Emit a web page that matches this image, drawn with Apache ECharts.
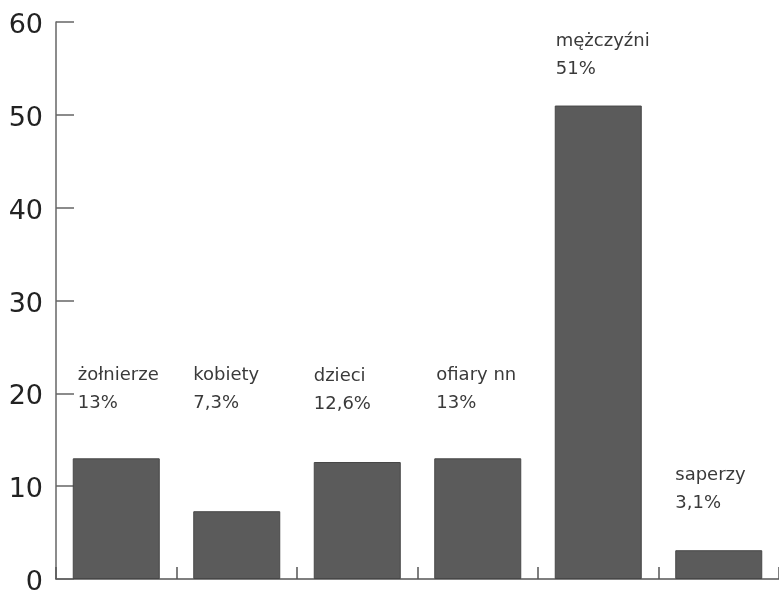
<!DOCTYPE html>
<html><head><meta charset="utf-8">
<script src="https://cdn.jsdelivr.net/npm/echarts@6/dist/echarts.min.js"></script>
<style>html,body{margin:0;padding:0;background:#fff}#c{width:779px;height:590px}</style>
</head><body><div id="c"></div>
<script>
const categories = ['żołnierze', 'kobiety', 'dzieci', 'ofiary nn', 'mężczyźni', 'saperzy'];
const values = [13, 7.3, 12.6, 13, 51, 3.1];
const percentLabels = ['13%', '7,3%', '12,6%', '13%', '51%', '3,1%'];
const yTicks = [0, 10, 20, 30, 40, 50, 60];

// label placement (px, relative to bar top-left)
const labelPos = [[5, -97], [0, -150], [0, -100], [2, -97], [1, -78], [0, -89]];

const chart = echarts.init(document.getElementById('c'));
chart.setOption({
  animation: false,
  grid: { left: 56, right: 0, top: 22, bottom: 11, containLabel: false, outerBoundsMode: 'none' },
  xAxis: {
    type: 'category', data: categories,
    axisLine: { lineStyle: { color: '#555', width: 1.5 } },
    axisTick: { show: true, inside: true, length: 12, alignWithLabel: false, lineStyle: { color: '#555', width: 1.5 } },
    axisLabel: { show: false }
  },
  yAxis: {
    type: 'value', min: yTicks[0], max: yTicks[yTicks.length - 1], interval: 10,
    axisLine: { show: true, lineStyle: { color: '#666', width: 1.5 } },
    axisTick: { show: true, inside: true, length: 18, lineStyle: { color: '#666', width: 1.5 } },
    splitLine: { show: false },
    axisLabel: {
      margin: 13,
      formatter: v => '{a|' + v + '}',
      rich: { a: { color: '#222', fontSize: 27, fontFamily: 'DejaVu Sans', padding: [8, 0, 0, 0] } }
    }
  },
  series: [{
    type: 'bar', barWidth: 87,
    data: values.map((v, i) => ({
      value: v,
      label: {
        show: true, position: labelPos[i], align: 'left', verticalAlign: 'top',
        formatter: categories[i] + '\n' + percentLabels[i]
      }
    })),
    itemStyle: { color: '#5b5b5b', borderColor: '#474747', borderWidth: 1 },
    label: { color: '#3a3a3a', fontSize: 18, lineHeight: 28, fontFamily: 'DejaVu Sans' }
  }]
});
</script></body></html>
